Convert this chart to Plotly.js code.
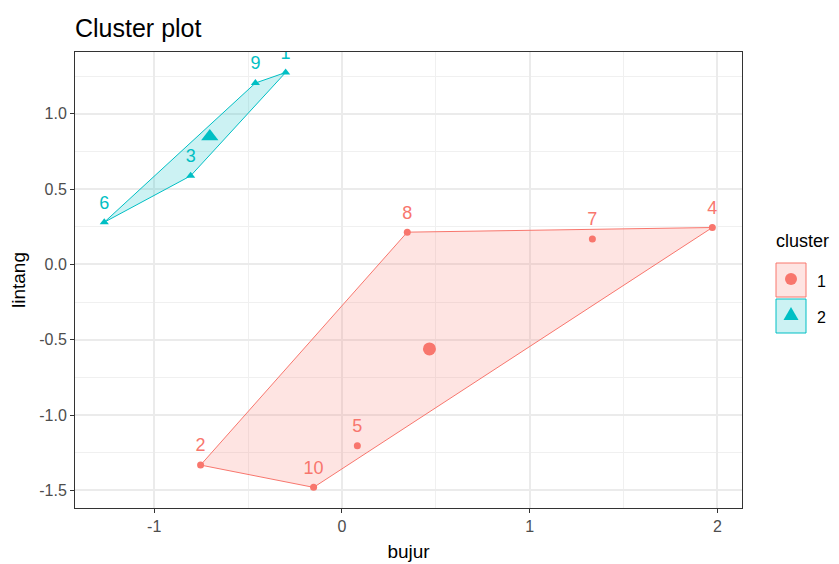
<!DOCTYPE html>
<html>
<head>
<meta charset="utf-8">
<script src="https://cdn.plot.ly/plotly-3.0.1.min.js"></script>
<style>html,body{margin:0;padding:0;background:#fff;}#chart{width:839px;height:564px;}</style>
</head>
<body>
<div id="chart"></div>
<script>
// ---- data ----
const labels1 = ['2', '4', '5', '7', '8', '10'];
const bujur1 = [-0.753, 1.973, 0.082, 1.334, 0.348, -0.151];
const lintang1 = [-1.332, 0.245, -1.204, 0.169, 0.214, -1.480];
const center1 = [0.466, -0.561];

const labels2 = ['1', '3', '6', '9'];
const bujur2 = [-0.300, -0.806, -1.266, -0.461];
const lintang2 = [1.274, 0.588, 0.280, 1.204];
const center2 = [-0.704, 0.849];

const clusterNames = ['1', '2'];
const xTicks = [-1, 0, 1, 2];
const yTicks = [-1.5, -1.0, -0.5, 0.0, 0.5, 1.0];

const col1 = '#F8766D', col2 = '#00BFC4';

function hull(xs, ys) {
  const pts = xs.map((x, i) => [x, ys[i]]).sort((a, b) => a[0] - b[0] || a[1] - b[1]);
  const cross = (o, a, b) => (a[0] - o[0]) * (b[1] - o[1]) - (a[1] - o[1]) * (b[0] - o[0]);
  const lower = [], upper = [];
  for (const p of pts) { while (lower.length >= 2 && cross(lower[lower.length - 2], lower[lower.length - 1], p) <= 0) lower.pop(); lower.push(p); }
  for (let i = pts.length - 1; i >= 0; i--) { const p = pts[i]; while (upper.length >= 2 && cross(upper[upper.length - 2], upper[upper.length - 1], p) <= 0) upper.pop(); upper.push(p); }
  upper.pop(); lower.pop();
  const h = lower.concat(upper); h.push(h[0]);
  return { x: h.map(p => p[0]), y: h.map(p => p[1]) };
}
const h1 = hull(bujur1, lintang1), h2 = hull(bujur2, lintang2);

const FONT = 'Liberation Sans, Arial, sans-serif';
const traces = [
  { x: h1.x, y: h1.y, mode: 'lines', fill: 'toself', fillcolor: 'rgba(248,118,109,0.2)', line: { color: col1, width: 1 }, hoverinfo: 'skip' },
  { x: h2.x, y: h2.y, mode: 'lines', fill: 'toself', fillcolor: 'rgba(0,191,196,0.2)', line: { color: col2, width: 1 }, hoverinfo: 'skip' },
  { x: bujur1, y: lintang1, mode: 'markers', marker: { symbol: 'circle', size: 7, color: col1 } },
  { x: bujur2, y: lintang2, mode: 'markers', marker: { symbol: 'triangle-up', size: 8, color: col2 } },
  { x: bujur1, y: lintang1, text: labels1, mode: 'markers+text', textposition: 'top center', textfont: { family: FONT, size: 18, color: col1 }, marker: { size: 13, color: 'rgba(0,0,0,0)' } },
  { x: bujur2, y: lintang2, text: labels2, mode: 'markers+text', textposition: 'top center', textfont: { family: FONT, size: 18, color: col2 }, marker: { size: 13, color: 'rgba(0,0,0,0)' } },
  { x: [center1[0]], y: [center1[1]], mode: 'markers', marker: { symbol: 'circle', size: 13, color: col1 } },
  { x: [center2[0]], y: [center2[1]], mode: 'markers', marker: { symbol: 'triangle-up', size: 15, color: col2 } }
];

// legend (drawn manually, ggplot style) in paper coordinates
const L = 75, W = 667, B = 508, H = 456;
const px = v => (v - L) / W, py = v => (B - v) / H;
const shapes = [
  { type: 'rect', xref: 'paper', yref: 'paper', x0: px(776), x1: px(806), y0: py(297), y1: py(263), line: { color: col1, width: 1 }, fillcolor: 'rgba(248,118,109,0.2)' },
  { type: 'rect', xref: 'paper', yref: 'paper', x0: px(776), x1: px(806), y0: py(333), y1: py(299), line: { color: col2, width: 1 }, fillcolor: 'rgba(0,191,196,0.2)' },
  { type: 'circle', xref: 'paper', yref: 'paper', x0: px(785), x1: px(797), y0: py(285), y1: py(273), line: { color: col1, width: 0 }, fillcolor: col1 },
  { type: 'path', xref: 'paper', yref: 'paper', path: `M ${px(791)} ${py(307)} L ${px(798.5)} ${py(320)} L ${px(783.5)} ${py(320)} Z`, line: { color: col2, width: 0 }, fillcolor: col2 }
];
const annotations = [
  { xref: 'paper', yref: 'paper', x: px(774), y: py(241), xanchor: 'left', yanchor: 'middle', text: 'cluster', showarrow: false, font: { family: FONT, size: 18, color: '#000' } },
  { xref: 'paper', yref: 'paper', x: px(815), y: py(281), xanchor: 'left', yanchor: 'middle', text: clusterNames[0], showarrow: false, font: { family: FONT, size: 16, color: '#000' } },
  { xref: 'paper', yref: 'paper', x: px(815), y: py(317), xanchor: 'left', yanchor: 'middle', text: clusterNames[1], showarrow: false, font: { family: FONT, size: 16, color: '#000' } }
];

const axisCommon = {
  showline: true, mirror: true, linecolor: '#333333', linewidth: 1,
  ticks: 'outside', ticklen: 4, tickcolor: '#333333', tickwidth: 1,
  tickfont: { family: FONT, size: 16, color: '#4D4D4D' },
  showgrid: true, gridcolor: '#EBEBEB', gridwidth: 2, zeroline: false
};
const layout = {
  width: 839, height: 564,
  margin: { l: 75, r: 97, t: 52, b: 56 },
  paper_bgcolor: '#fff', plot_bgcolor: '#fff',
  showlegend: false,
  title: { text: 'Cluster plot', x: 75 / 839, xanchor: 'left', xref: 'container', y: 1 - 28 / 564, yanchor: 'middle', font: { family: FONT, size: 25, color: '#000' } },
  xaxis: Object.assign({}, axisCommon, { range: [-1.422, 2.131], tickvals: xTicks, ticktext: xTicks.map(String),
    minor: { dtick: 0.5, tick0: 0, showgrid: true, gridcolor: '#F0F0F0', gridwidth: 1, ticks: '' },
    title: { text: 'bujur', font: { family: FONT, size: 19, color: '#000' }, standoff: 10 } }),
  yaxis: Object.assign({}, axisCommon, { range: [-1.617, 1.41], tickvals: yTicks, ticktext: yTicks.map(v => v.toFixed(1)),
    minor: { dtick: 0.25, tick0: 0, showgrid: true, gridcolor: '#F0F0F0', gridwidth: 1, ticks: '' },
    title: { text: 'lintang', font: { family: FONT, size: 19, color: '#000' }, standoff: 8 } }),
  shapes: shapes, annotations: annotations
};
Plotly.newPlot('chart', traces, layout, { displayModeBar: false, staticPlot: true });
</script>
</body>
</html>
